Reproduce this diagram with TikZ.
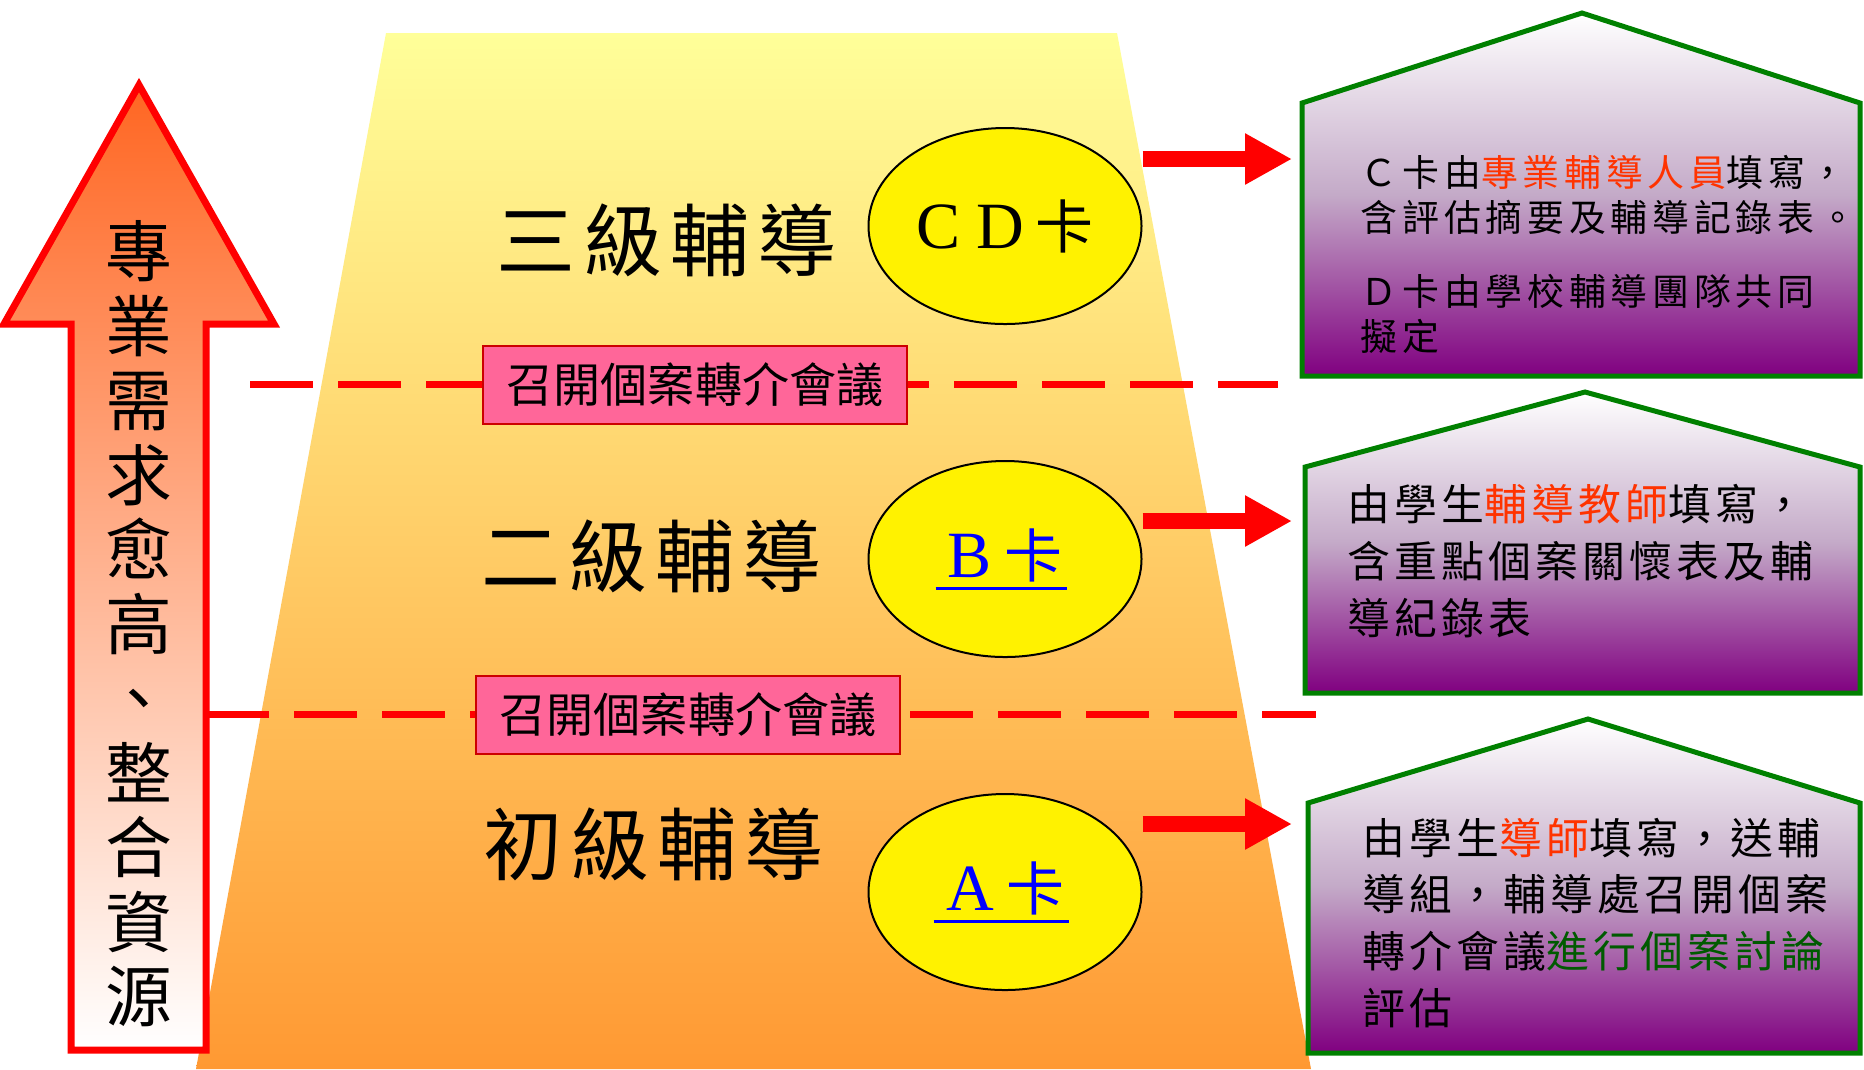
\documentclass[tikz,border=0pt]{standalone}
\usepackage{fontspec}
\setmainfont{Liberation Serif}
\newfontfamily\cjk{Noto Sans CJK TC}
\newfontfamily\cjklevel[LetterSpace=10]{Noto Sans CJK TC}
\newfontfamily\cjkcase[LetterSpace=13]{Noto Sans CJK TC}
\newfontfamily\cjknote[LetterSpace=9.5]{Noto Sans CJK TC}
\usetikzlibrary{positioning}
\usetikzlibrary{shapes.geometric}
\usetikzlibrary{arrows.meta}

\definecolor{trapTop}{RGB}{255,255,153}
\definecolor{trapBottom}{RGB}{255,153,51}
\definecolor{liftTop}{RGB}{255,102,34}
\definecolor{meetingFill}{RGB}{255,102,153}
\definecolor{meetingEdge}{RGB}{204,0,0}
\definecolor{houseEdge}{RGB}{0,128,0}
\definecolor{houseMid}{RGB}{196,170,200}
\definecolor{housePurple}{RGB}{128,0,128}
\definecolor{noteRed}{RGB}{255,51,0}
\definecolor{noteGreen}{RGB}{0,90,0}

\newcommand\cardlink[1]{\setbox0=\hbox{#1}\rlap{\kern-3.5pt\rule[-3.6pt]{\dimexpr\wd0+5pt\relax}{0.9pt}}\box0}

\begin{document}
\begin{tikzpicture}[x=0.1mm, y=-0.1mm,
                    trap/.style={top color=trapTop, bottom color=trapBottom},
                    lift/.style={draw=red, line width=0.7mm, line join=miter, top color=liftTop, bottom color=white},
                    cut/.style={draw=red, line width=0.7mm, dash pattern=on 6.3mm off 2.5mm},
                    meeting/.style={draw=meetingEdge, line width=0.2mm, fill=meetingFill, minimum width=42.4mm, minimum height=7.8mm, inner sep=0pt, font=\fontsize{13.4pt}{16pt}\selectfont\cjk},
                    tier/.style={inner sep=0pt, font=\fontsize{22.5pt}{26pt}\selectfont\cjklevel},
                    card/.style={ellipse, draw=black, line width=0.2mm, fill=yellow, minimum width=27.3mm, minimum height=19.6mm, inner sep=0pt},
                    feed/.style={draw=red, line width=1.6mm, -{Triangle[length=4.7mm, width=4.8mm]}},
                    house/.style={draw=houseEdge, line width=0.5mm, top color=white, bottom color=housePurple, middle color=houseMid},
                    note/.style={anchor=north west, inner sep=0pt, align=left}]
    \useasboundingbox (0,0) rectangle (1864,1069);
    \path[trap] (386,33) -- (1117,33) -- (1311,1069) -- (196,1069) -- cycle;

    \coordinate (cutA) at (250,384);
    \coordinate (cutB) at (1278,384);
    \coordinate (cutC) at (206,714);
    \coordinate (cutD) at (1316,714);
    \draw[cut] (cutA) -- (cutB);
    \draw[cut] (cutC) -- (cutD);
    \node[meeting] (meet3) at (695,385) {召開個案轉介會議};
    \node[meeting] (meet2) at (688,715) {召開個案轉介會議};

    \path[lift] (139,85) -- (274,324) -- (206,324) -- (206,1050) -- (71,1050) -- (71,324) -- (4,324) -- cycle;
    \node[inner sep=0pt, anchor=north, align=center, font=\fontsize{19pt}{21.2pt}\selectfont\cjk] (need) at (139,220)
        {專\\業\\需\\求\\愈\\高\\、\\整\\合\\資\\源};

    \node[tier] (tier3) at (667,240) {三級輔導};
    \node[tier] (tier2) at (652,556) {二級輔導};
    \node[tier] (tier1) at (654,844) {初級輔導};

    \node[card] (cardCD) at (1005,226) {\fontsize{18.8pt}{20pt}\selectfont C\hspace{4.5pt}D\hspace{3pt}\cjk\fontsize{16.5pt}{18pt}\selectfont 卡};
    \node[card, text=blue] (cardB) at (1005,559) {\cardlink{\fontsize{18.8pt}{20pt}\selectfont B\hspace{3.5pt}\cjk\fontsize{16.5pt}{18pt}\selectfont 卡}};
    \node[card, text=blue] (cardA) at (1005,892) {\cardlink{\fontsize{18.8pt}{20pt}\selectfont A\hspace{3.5pt}\cjk\fontsize{16.5pt}{18pt}\selectfont 卡}};

    \coordinate (tipCD) at (1292,159);
    \coordinate (tipB) at (1292,521);
    \coordinate (tipA) at (1292,824);
    \draw[feed] (cardCD.east |- tipCD) -- (tipCD);
    \draw[feed] (cardB.east |- tipB) -- (tipB);
    \draw[feed] (cardA.east |- tipA) -- (tipA);

    \path[house] (1302,376) -- (1302,103) -- (1582,13) -- (1860,103) -- (1860,376) -- cycle;
    \path[house] (1305,693) -- (1305,467) -- (1585,392) -- (1860,467) -- (1860,693) -- cycle;
    \path[house] (1308,1053) -- (1308,803) -- (1588,719) -- (1860,803) -- (1860,1053) -- cycle;

    \node[note, font=\fontsize{10.5pt}{12.8pt}\selectfont\cjkcase] (noteCD) at (1360,155)
        {Ｃ卡由\textcolor{noteRed}{專業輔導人員}填寫，\\含評估摘要及輔導記錄表。\\[8pt]Ｄ卡由學校輔導團隊共同\\擬定};
    \node[note, font=\fontsize{12.2pt}{16.2pt}\selectfont\cjknote] (noteB) at (1347,484)
        {由學生\textcolor{noteRed}{輔導教師}填寫，\\含重點個案關懷表及輔\\導紀錄表};
    \node[note, font=\fontsize{12.2pt}{16.2pt}\selectfont\cjknote] (noteA) at (1362,817)
        {由學生\textcolor{noteRed}{導師}填寫，送輔\\導組，輔導處召開個案\\轉介會議\textcolor{noteGreen}{進行個案討論}\\評估};
\end{tikzpicture}
\end{document}
